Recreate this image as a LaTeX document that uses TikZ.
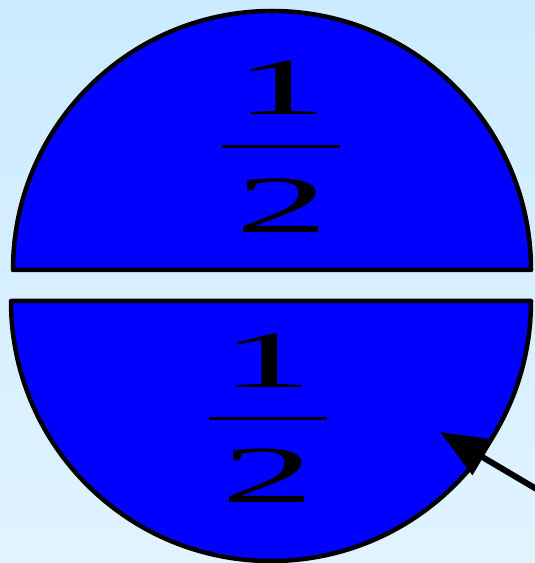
\documentclass[tikz,border=0pt]{standalone}
\usepackage{fontspec}
\setmainfont{Liberation Serif}
\usetikzlibrary{arrows.meta}
\definecolor{bgtop}{RGB}{204,235,255}
\definecolor{bgbot}{RGB}{225,243,255}
\definecolor{halfblue}{RGB}{0,0,255}
\begin{document}
\begin{tikzpicture}[x=1pt,y=1pt,
  half/.style={fill=halfblue,draw=black,line width=4.5pt,line join=round},
  digit/.style={inner sep=0pt,xscale=2.3,font=\fontsize{81}{81}\selectfont},
  fracbar/.style={line width=3pt},
  pointer/.style={line width=6pt,-{Triangle[length=50pt,width=40pt]}}]
\useasboundingbox (0,0) rectangle (535,563);
\clip (0,0) rectangle (535,563);
\shade[top color=bgtop,bottom color=bgbot] (0,0) rectangle (535,563);
% top half
\draw[half] (13,293) arc[start angle=180,end angle=0,radius=259] -- cycle;
% bottom half
\draw[half] (11,262) arc[start angle=180,end angle=360,radius=260] -- cycle;
% top fraction
\node[digit] (t1) at (281,475.5) {1};
\node[digit] (t2) at (282,357) {2};
\coordinate (tbl) at (222,416);
\coordinate (tbr) at (340,416);
\draw[fracbar] (tbl) -- (tbr);
% bottom fraction
\node[digit] (b1) at (267.5,202.5) {1};
\node[digit] (b2) at (268.5,87.5) {2};
\coordinate (bbl) at (209,144);
\coordinate (bbr) at (327,144);
\draw[fracbar] (bbl) -- (bbr);
% arrow
\coordinate (tail) at (550,66);
\coordinate (tip) at (440,131);
\draw[pointer] (tail) -- (tip);
\end{tikzpicture}
\end{document}
